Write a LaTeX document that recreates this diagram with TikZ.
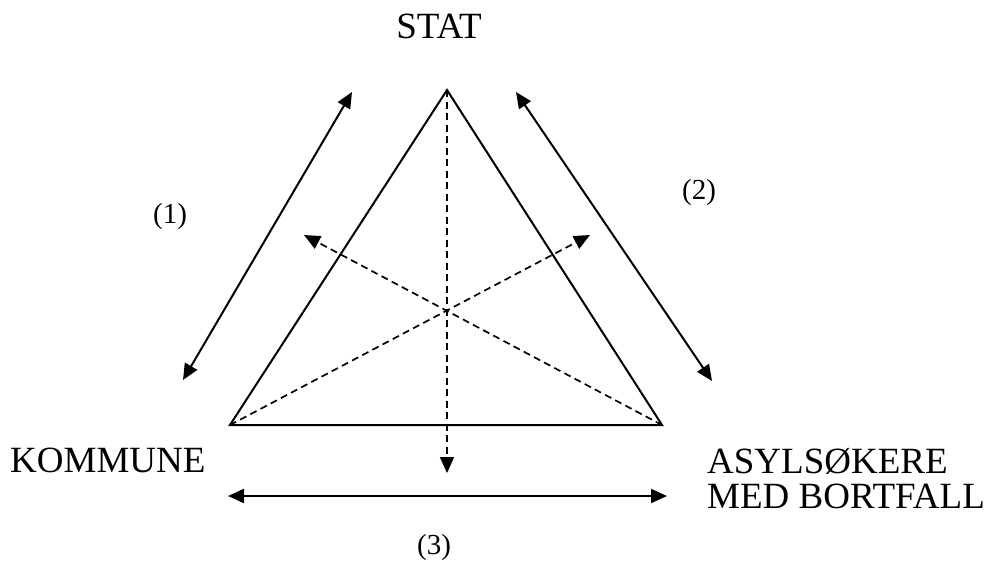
\documentclass[tikz,border=0pt]{standalone}
\usepackage{fontspec}
\setmainfont{Liberation Serif}
\usetikzlibrary{arrows.meta}
\begin{document}
\begin{tikzpicture}[x=1pt,y=-1pt,
  solidline/.style={line width=2pt},
  dashline/.style={line width=1.7pt, dash pattern=on 7pt off 4.5pt},
  tip/.style={-{Triangle[length=16pt,width=14pt]}},
  dtip/.style={{Triangle[length=16pt,width=14pt]}-{Triangle[length=16pt,width=14pt]}},
  big/.style={font=\fontsize{37}{37}\selectfont, inner sep=0pt},
  small/.style={font=\fontsize{29}{29}\selectfont, inner sep=0pt}]
\useasboundingbox (0,0) rectangle (992,565);
% triangle corners
\coordinate (A) at (447,90);
\coordinate (L) at (230,425);
\coordinate (R) at (662,425);
\draw[solidline, line join=miter] (L) -- (A) -- (R) -- cycle;
% dashed lines
\coordinate (dV) at (447,473);
\coordinate (dR) at (590,235);
\coordinate (dL) at (304,235);
\draw[dashline, tip] (A) -- (dV);
\draw[dashline, tip] (L) -- (dR);
\draw[dashline, tip] (R) -- (dL);
% double arrows
\coordinate (a1) at (183,380);
\coordinate (b1) at (352,92);
\coordinate (a2) at (516,92);
\coordinate (b2) at (712,381);
\coordinate (a3) at (228,496);
\coordinate (b3) at (667,496);
\draw[solidline, dtip] (a1) -- (b1);
\draw[solidline, dtip] (a2) -- (b2);
\draw[solidline, dtip] (a3) -- (b3);
% labels
\node[big, anchor=base] (stat) at (439,38) {STAT};
\node[big, anchor=base west] (kom) at (10,472) {KOMMUNE};
\node[big, anchor=base west] (asyl1) at (707,473) {ASYLSØKERE};
\node[big, anchor=base west] (asyl2) at (707,508) {MED BORTFALL};
\node[small, anchor=center] (l1) at (170,217) {(1)};
\node[small, anchor=center] (l2) at (699,193) {(2)};
\node[small, anchor=center] (l3) at (434,548) {(3)};
\end{tikzpicture}
\end{document}
